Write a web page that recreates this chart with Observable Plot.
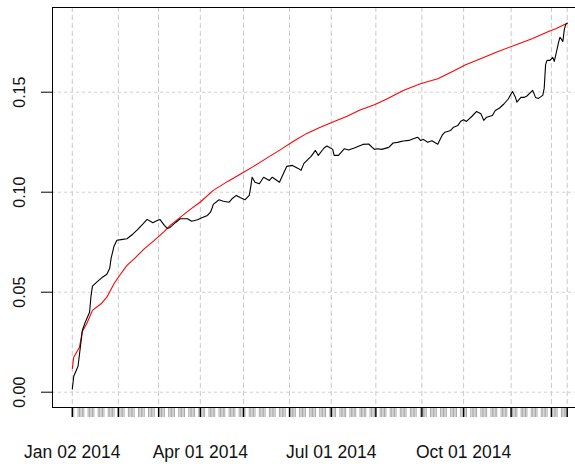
<!DOCTYPE html>
<html>
<head>
<meta charset="utf-8">
<script src="https://cdn.jsdelivr.net/npm/d3@7"></script>
<script src="https://cdn.jsdelivr.net/npm/@observablehq/plot@0.6"></script>
<style>
  html, body { margin: 0; padding: 0; background: #fff; overflow: hidden; }
  #wrap { width: 575px; height: 464px; overflow: hidden; }
  #wrap svg { max-width: none !important; display: block; }
</style>
</head>
<body>
<div id="wrap"></div>
<script>
// Black series (cumulative return)
const blackDates = [
  "2014-01-02","2014-01-03","2014-01-06","2014-01-08","2014-01-09","2014-01-11","2014-01-14","2014-01-15","2014-01-16","2014-01-19",
  "2014-01-23","2014-01-26","2014-01-28","2014-01-29","2014-01-31","2014-02-02","2014-02-05","2014-02-09","2014-02-13","2014-02-16",
  "2014-02-20","2014-02-23","2014-02-27","2014-03-02","2014-03-04","2014-03-07","2014-03-09","2014-03-11","2014-03-15","2014-03-18",
  "2014-03-23","2014-03-26","2014-03-30","2014-04-02","2014-04-06","2014-04-08","2014-04-09","2014-04-10","2014-04-14","2014-04-17",
  "2014-04-21","2014-04-23","2014-04-26","2014-04-29","2014-05-02","2014-05-05","2014-05-06","2014-05-07","2014-05-09","2014-05-12",
  "2014-05-15","2014-05-19","2014-05-21","2014-05-26","2014-05-31","2014-06-04","2014-06-08","2014-06-10","2014-06-12","2014-06-17",
  "2014-06-20","2014-06-22","2014-06-26","2014-06-28","2014-07-02","2014-07-03","2014-07-06","2014-07-10","2014-07-13","2014-07-17",
  "2014-07-23","2014-07-27","2014-07-31","2014-08-02","2014-08-05","2014-08-10","2014-08-13","2014-08-16","2014-08-20","2014-08-24",
  "2014-08-27","2014-08-30","2014-09-01","2014-09-03","2014-09-06","2014-09-09","2014-09-13","2014-09-16","2014-09-18","2014-09-22",
  "2014-09-24","2014-09-27","2014-09-29","2014-10-01","2014-10-03","2014-10-07","2014-10-10","2014-10-13","2014-10-15","2014-10-17",
  "2014-10-21","2014-10-23","2014-10-26","2014-10-29","2014-11-01","2014-11-04","2014-11-06","2014-11-07","2014-11-10","2014-11-12",
  "2014-11-14","2014-11-18","2014-11-20","2014-11-22","2014-11-25","2014-11-26","2014-11-27","2014-11-28","2014-11-30","2014-12-02",
  "2014-12-03","2014-12-04","2014-12-06","2014-12-07","2014-12-09","2014-12-10","2014-12-11","2014-12-12"
];
const blackValues = [
  0.0015,0.008,0.013,0.025,0.031,0.035,0.040,0.048,0.053,0.055,
  0.0575,0.059,0.062,0.067,0.073,0.076,0.0763,0.0767,0.079,0.081,
  0.084,0.0864,0.0847,0.0858,0.0863,0.0834,0.0819,0.0824,0.085,0.0867,
  0.0867,0.0855,0.0862,0.0872,0.0884,0.090,0.0917,0.0939,0.0962,0.0955,
  0.095,0.0967,0.0984,0.0972,0.0962,0.0984,0.1025,0.1075,0.105,0.1042,
  0.1075,0.1059,0.1075,0.105,0.1129,0.1134,0.1119,0.1109,0.1144,0.1179,
  0.1209,0.1184,0.1221,0.1231,0.1214,0.1184,0.1184,0.1217,0.1211,0.1221,
  0.1239,0.1241,0.1214,0.1217,0.1214,0.1224,0.1246,0.1249,0.1256,0.1259,
  0.1267,0.1275,0.1259,0.1264,0.125,0.1257,0.124,0.1284,0.13,0.1309,
  0.1325,0.1334,0.1355,0.1362,0.1354,0.1381,0.1404,0.1392,0.1359,0.1375,
  0.1384,0.1409,0.1421,0.1441,0.1466,0.1504,0.1475,0.145,0.1475,0.1474,
  0.1481,0.1509,0.1474,0.1469,0.1484,0.1519,0.1639,0.1659,0.1659,0.1674,
  0.1654,0.1684,0.1749,0.1775,0.1754,0.1814,0.1839,0.1845
];
// Red series (benchmark curve)
const redDates = [
  "2014-01-02","2014-01-03","2014-01-07","2014-01-09","2014-01-12","2014-01-16","2014-01-22","2014-01-26","2014-01-31","2014-02-03",
  "2014-02-09","2014-02-14","2014-02-21","2014-02-28","2014-03-07","2014-03-11","2014-03-18","2014-03-25","2014-04-01","2014-04-10",
  "2014-04-20","2014-04-29","2014-05-08","2014-05-18","2014-05-27","2014-06-05","2014-06-14","2014-06-23","2014-07-03","2014-07-12",
  "2014-07-21","2014-07-31","2014-08-09","2014-08-20","2014-09-01","2014-09-13","2014-09-24","2014-10-02","2014-10-14","2014-10-25",
  "2014-11-06","2014-11-18","2014-11-29","2014-12-04","2014-12-12"
];
const redValues = [
  0.0117,0.0175,0.0225,0.0304,0.0342,0.0409,0.0442,0.0475,0.0542,0.0575,
  0.0634,0.0667,0.0717,0.0759,0.0804,0.0834,0.0874,0.0914,0.0951,0.1009,
  0.1054,0.1091,0.1129,0.1174,0.1214,0.1256,0.1294,0.1324,0.1354,0.138,
  0.1411,0.1437,0.1467,0.1509,0.1542,0.1567,0.1606,0.1636,0.1671,0.1704,
  0.1736,0.1769,0.1804,0.1817,0.1845
];
// Axis ticks
const majorTickDates = ["2014-01-02","2014-02-03","2014-03-03","2014-04-01","2014-05-01","2014-06-02",
  "2014-07-01","2014-08-01","2014-09-02","2014-10-01","2014-11-03","2014-12-01","2014-12-12"];
const labelDates = ["2014-01-02","2014-04-01","2014-07-01","2014-10-01"];
const yTicks = [0, 0.05, 0.10, 0.15];

const parse = d3.utcParse("%Y-%m-%d");
const black = blackDates.map((d, i) => ({date: parse(d), value: blackValues[i]}));
const red = redDates.map((d, i) => ({date: parse(d), value: redValues[i]}));
const majors = majorTickDates.map(parse);
const labels = labelDates.map(parse);
const start = parse(blackDates[0]), end = parse(blackDates[blackDates.length - 1]);
// observation (weekday) ticks along the bottom
const minors = d3.utcDay.range(start, d3.utcDay.offset(end, 1)).filter(d => d.getUTCDay() !== 0 && d.getUTCDay() !== 6);
const pad = (end - start) * 0.04;
const fmt = d3.utcFormat("%b %d %Y");

const chart = Plot.plot({
  width: 600,
  height: 464,
  marginLeft: 52,
  marginRight: 13.5,
  marginTop: 7,
  marginBottom: 57,
  style: {fontFamily: "'Liberation Sans', Arial, sans-serif", background: "#fff", maxWidth: "none"},
  x: {type: "utc", domain: [new Date(+start - pad), new Date(+end + pad)]},
  y: {domain: [-0.00765, 0.19235]},
  marks: [
    Plot.ruleX(majors, {stroke: "#c8c8c8", strokeDasharray: "5,3"}),
    Plot.ruleY(yTicks, {stroke: "#d0d0d0", strokeDasharray: "3,3"}),
    Plot.axisX({ticks: minors, tickSize: 10, tickFormat: () => "", stroke: "#a8a8a8", label: null}),
    Plot.axisX({ticks: majors, tickSize: 10, tickFormat: () => "", stroke: "#000", strokeWidth: 1.4, label: null}),
    Plot.axisX({ticks: labels, tickSize: 0, tickPadding: 38, tickFormat: fmt, fontSize: 17.5, fill: "#111", label: null}),
    Plot.axisY({ticks: yTicks, tickSize: 11, tickFormat: () => "", stroke: "#000", label: null}),
    Plot.text(yTicks, {frameAnchor: "left", y: d => d, text: d => d3.format(".2f")(d), rotate: -90, dx: -33,
      textAnchor: "middle", fontSize: 16, fill: "#111"}),
    Plot.line(red, {x: "date", y: "value", stroke: "#ff0000", strokeWidth: 1.1}),
    Plot.line(black, {x: "date", y: "value", stroke: "#000", strokeWidth: 1.1}),
    Plot.frame({stroke: "#000"})
  ]
});
document.getElementById("wrap").appendChild(chart);
</script>
</body>
</html>
